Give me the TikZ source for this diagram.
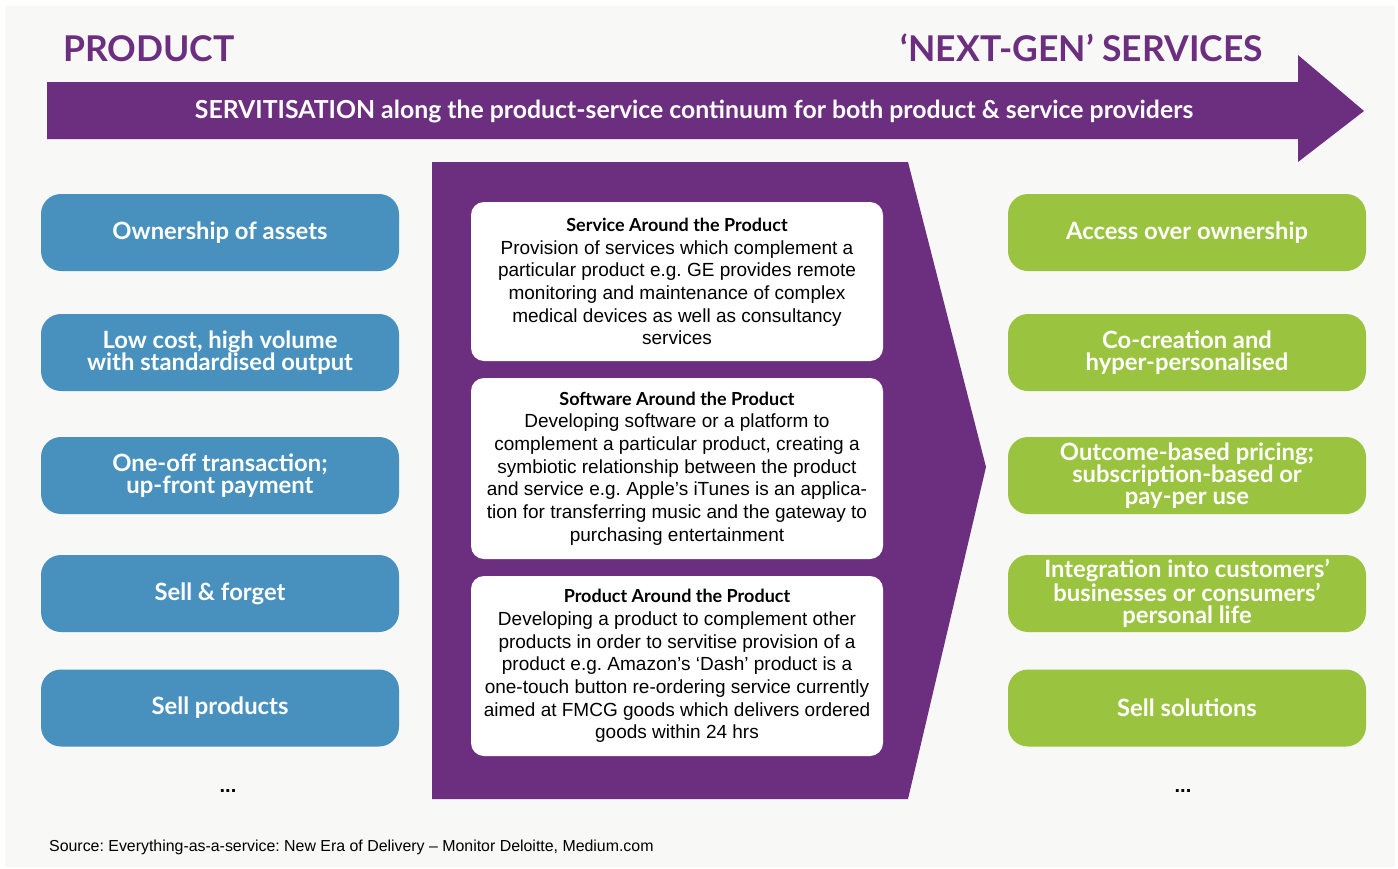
\documentclass[tikz,border=0pt]{standalone}
\usepackage{fontspec}
\setmainfont{Liberation Sans}
\newfontfamily\rnd{Lato}
\frenchspacing
\definecolor{purp}{HTML}{6C2F80}
\definecolor{bluebox}{HTML}{4891BE}
\definecolor{greenbox}{HTML}{9AC43F}
\definecolor{bgc}{HTML}{F8F8F6}
\tikzset{
  sidebox/.style={rounded corners=20pt, minimum width=358pt, minimum height=77pt, inner sep=0pt,
    text=white, align=center, font=\rnd\bfseries\fontsize{23.8}{22}\selectfont},
  bluestyle/.style={sidebox, fill=bluebox},
  greenstyle/.style={sidebox, fill=greenbox},
  infobox/.style={fill=white, rounded corners=13pt, minimum width=412pt, inner sep=0pt, align=center,
    font=\fontsize{19}{22.7}\selectfont},
  headtext/.style={text=purp, font=\rnd\bfseries\fontsize{35.5}{36}\selectfont, inner sep=0pt},
  dots/.style={font=\bfseries\fontsize{20}{20}\selectfont, inner sep=0pt}
}
\newcommand{\bhead}[1]{{\rnd\bfseries\fontsize{18}{22.7}\selectfont #1}}
\begin{document}
\begin{tikzpicture}[x=1pt,y=-1pt]
\useasboundingbox (0,0) rectangle (1398,868);
\fill[white] (0,0) rectangle (1398,868);
\fill[bgc] (5,6) rectangle (1395,867);
% titles
\node[headtext, anchor=base west] (tprod) at (63,61) {PRODUCT};
\node[headtext, anchor=base east] (tserv) at (1263,61) {‘NEXT-GEN’ SERVICES};
% big arrow
\fill[purp] (47,82) -- (1298,82) -- (1298,55) -- (1364,111) -- (1298,162) -- (1298,139) -- (47,139) -- cycle;
\node[text=white, font=\rnd\bfseries\fontsize{24.8}{24.8}\selectfont, inner sep=0pt] (atext) at (694,112)
  {SERVITISATION along the product-service continuum for both product \& service providers};
% central chevron
\fill[purp] (432,162) -- (908,162) -- (986,467) -- (908,799) -- (432,799) -- cycle;
% info boxes
\node[infobox, minimum height=159pt] (s1) at (677,281.5) {\bhead{Service Around the Product}\\
Provision of services which complement a\\
particular product e.g. GE provides remote\\
monitoring and maintenance of complex\\
medical devices as well as consultancy\\
services};
\node[infobox, minimum height=181pt] (s2) at (677,468.5) {\bhead{Software Around the Product}\\
Developing software or a platform to\\
complement a particular product, creating a\\
symbiotic relationship between the product\\
and service e.g. Apple’s iTunes is an applica-\\
tion for transferring music and the gateway to\\
purchasing entertainment};
\node[infobox, minimum height=180pt] (s3) at (677,666) {\bhead{Product Around the Product}\\
Developing a product to complement other\\
products in order to servitise provision of a\\
product e.g. Amazon’s ‘Dash’ product is a\\
one-touch button re-ordering service currently\\
aimed at FMCG goods which delivers ordered\\
goods within 24 hrs};
% left blue boxes
\node[bluestyle] (b1) at (220,232.5) {Ownership of assets};
\node[bluestyle] (b2) at (220,352.5) {Low cost, high volume\\with standardised output};
\node[bluestyle] (b3) at (220,475.5) {One-off transaction;\\up-front payment};
\node[bluestyle] (b4) at (220,593.5) {Sell \& forget};
\node[bluestyle] (b5) at (220,708) {Sell products};
% right green boxes
\node[greenstyle] (g1) at (1187,232.5) {Access over ownership};
\node[greenstyle] (g2) at (1187,352.5) {Co-creation and\\hyper-personalised};
\node[greenstyle] (g3) at (1187,475.5) {Outcome-based pricing;\\subscription-based or\\pay-per use};
\node[greenstyle] (g4) at (1187,593.5) {Integration into customers’\\businesses or consumers’\\personal life};
\node[greenstyle] (g5) at (1187,708) {Sell solutions};
% dots
\node[dots] (d1) at (228,791) {...};
\node[dots] (d2) at (1183,791) {...};
% source
\node[anchor=base west, inner sep=0pt, font=\fontsize{15.9}{15.9}\selectfont] (src) at (49,851)
  {Source: Everything-as-a-service: New Era of Delivery – Monitor Deloitte, Medium.com};
\end{tikzpicture}
\end{document}
